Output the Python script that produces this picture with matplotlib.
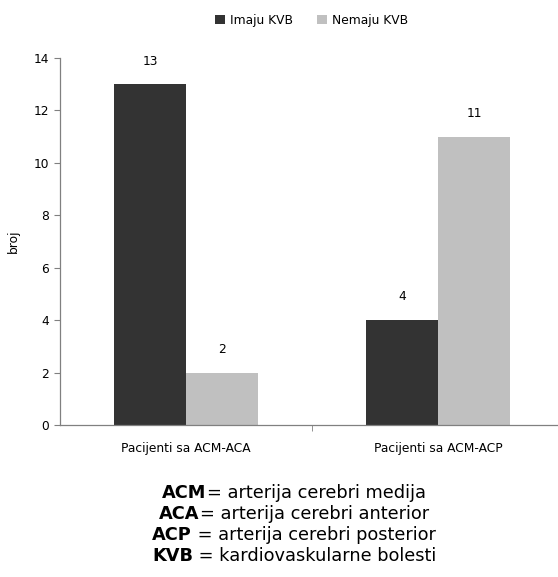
import matplotlib
matplotlib.use("Agg")
import matplotlib.pyplot as plt
import numpy as np

groups = ["Pacijenti sa ACM-ACA", "Pacijenti sa ACM-ACP"]
imaju_kvb = [13, 4]
nemaju_kvb = [2, 11]
series_names = ["Imaju KVB", "Nemaju KVB"]
legend_lines = [
    ("ACM", "= arterija cerebri medija"),
    ("ACA", "= arterija cerebri anterior"),
    ("ACP", " = arterija cerebri posterior"),
    ("KVB", " = kardiovaskularne bolesti"),
]

plt.rcParams["font.family"] = ["DejaVu Sans"]
small = 8.8

fig = plt.figure(figsize=(5.58, 5.77), dpi=100)
ax = fig.add_axes([0.1075, 0.2634, 0.8925, 0.6361])

x = np.arange(len(groups))
w = 0.286
b1 = ax.bar(x - w / 2, imaju_kvb, w, color="#333333", label=series_names[0])
b2 = ax.bar(x + w / 2, nemaju_kvb, w, color="#c0c0c0", label=series_names[1])

for bars, vals in ((b1, imaju_kvb), (b2, nemaju_kvb)):
    for r, v in zip(bars, vals):
        ax.annotate(str(v), (r.get_x() + r.get_width() / 2, v), xytext=(0, 12),
                    textcoords="offset points", ha="center", va="bottom", fontsize=small)

ax.set_xlim(-0.5, 1.476)
ax.set_ylim(0, 14)
ax.set_yticks(range(0, 15, 2))
ax.set_xticks(x)
ax.set_xticklabels(groups, fontsize=small)
ax.set_xticks([0.5], minor=True)
ax.tick_params(axis="x", which="major", length=0, pad=12)
ax.tick_params(axis="x", which="minor", length=4, direction="out", color="#808080")
ax.tick_params(axis="y", length=4, direction="out", labelsize=small, color="#808080", pad=4)
ax.set_ylabel("broj", fontsize=small, labelpad=10)
for s in ("top", "right"):
    ax.spines[s].set_visible(False)
for s in ("left", "bottom"):
    ax.spines[s].set_color("#808080")
    ax.spines[s].set_linewidth(0.9)

fig.legend(loc="center", bbox_to_anchor=(0.558, 0.965), ncol=2, frameon=False,
           fontsize=small, handlelength=0.8, handleheight=0.8, handletextpad=0.4,
           columnspacing=2.0)

# footnote with bold abbreviations
renderer = fig.canvas.get_renderer()
cx = 0.527
y0 = 1 - 493 / 577
dy = 21 / 577
for i, (abbr, rest) in enumerate(legend_lines):
    y = y0 - i * dy
    tb = fig.text(0, y, abbr, fontsize=12.8, fontweight="bold", va="center", ha="left")
    tr = fig.text(0, y, rest, fontsize=12.8, va="center", ha="left")
    wb = tb.get_window_extent(renderer).width / fig.bbox.width
    wr = tr.get_window_extent(renderer).width / fig.bbox.width
    start = cx - (wb + wr) / 2
    tb.set_x(start)
    tr.set_x(start + wb)

fig.savefig("out.png", dpi=100)
